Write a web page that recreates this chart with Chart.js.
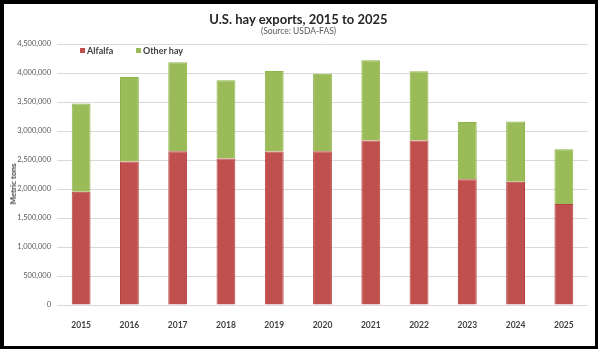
<!DOCTYPE html>
<html>
<head>
<meta charset="utf-8">
<script src="https://cdn.jsdelivr.net/npm/chart.js@4.4.1/dist/chart.umd.min.js"></script>
<style>
  html, body { margin: 0; padding: 0; background: #fff; }
  #wrap { position: relative; width: 600px; height: 351px; overflow: hidden; font-family: Lato, "Open Sans", sans-serif; }
  #frame { position: absolute; left: 0; top: 0; width: 598px; height: 349px; box-sizing: border-box;
           border-style: solid; border-color: #000; border-width: 4px 3px 3px 4px; }
  #chart-box { position: absolute; left: 0; top: 0; width: 600px; height: 351px; }
  .txt { position: absolute; white-space: nowrap; }
  #title { left: 0; width: 597px; top: 10px; text-align: center; font-size: 13px; font-weight: 700; color: #262626; line-height: 18px; }
  #subtitle { left: 0; width: 597px; top: 26px; text-align: center; font-size: 8.5px; color: #595959; line-height: 10px; }
  #ytitle { left: 13px; top: 184px; font-size: 8px; font-weight: 700; color: #404040;
            transform: translate(-50%, -50%) rotate(-90deg); }
  .legend-item { top: 46px; font-size: 9px; font-weight: 700; color: #404040; line-height: 10px; }
  .legend-dot { display: inline-block; width: 5px; height: 5px; margin-right: 2px; vertical-align: 1px; }
</style>
</head>
<body>
<div id="wrap">
  <div id="frame"></div>
  <div id="chart-box"><canvas id="hay-chart" width="600" height="351"></canvas></div>
  <div class="txt" id="title">U.S. hay exports, 2015 to 2025</div>
  <div class="txt" id="subtitle">(Source: USDA-FAS)</div>
  <div class="txt" id="ytitle">Metric tons</div>
  <div id="legend"></div>
</div>
<script>
// ─────────────────────────────────────────────
//  DATA (metric tons)
// ─────────────────────────────────────────────
const years = ['2015', '2016', '2017', '2018', '2019', '2020', '2021', '2022', '2023', '2024', '2025'];
const alfalfa = [1951000, 2473000, 2652000, 2525000, 2646000, 2652000, 2835000, 2835000, 2170000, 2124000, 1740000];
const otherHay = [1521000, 1459000, 1533000, 1350000, 1390000, 1337000, 1385000, 1195000, 987000, 1038000, 947000];
const yTicks = [0, 500000, 1000000, 1500000, 2000000, 2500000, 3000000, 3500000, 4000000, 4500000];

const seriesNames = ['Alfalfa', 'Other hay'];
const seriesColors = ['#C0504D', '#9BBB59'];
const seriesBorders = ['#B8403D', '#8DB548'];

// Legend (sits inside the plot area, top-left)
const legendPos = [80, 136];
document.getElementById('legend').innerHTML = seriesNames.map((name, i) => `
  <div class="txt legend-item" style="left:${legendPos[i]}px">
    <span class="legend-dot" style="background:${seriesColors[i]}"></span>${name}
  </div>`).join('');

const fmt = v => Number(v).toLocaleString('en-US');

new Chart(document.getElementById('hay-chart').getContext('2d'), {
  type: 'bar',
  data: {
    labels: years,
    datasets: [alfalfa, otherHay].map((data, i) => ({
      label: seriesNames[i],
      data,
      backgroundColor: seriesColors[i],
      borderColor: seriesBorders[i],
      borderWidth: 1,
      barPercentage: 0.39,
      categoryPercentage: 1
    }))
  },
  options: {
    responsive: false,
    animation: false,
    layout: { padding: { left: 0, top: 44, right: 12, bottom: 0 } },
    plugins: { legend: { display: false }, title: { display: false }, tooltip: { enabled: false } },
    scales: {
      x: {
        stacked: true,
        grid: { display: false },
        border: { display: false },
        ticks: { color: '#404040', padding: 7, font: { family: 'Lato', size: 8.5, weight: 'bold' } },
        afterFit: s => { s.height = 46; }
      },
      y: {
        stacked: true,
        min: 0,
        max: 4500000,
        afterBuildTicks: s => { s.ticks = yTicks.map(v => ({ value: v })); },
        grid: { color: '#D9D9D9', lineWidth: 1, drawTicks: false },
        border: { display: false },
        ticks: { color: '#595959', padding: 6, callback: v => fmt(v), font: { family: 'Lato', size: 7.5 } },
        afterFit: s => { s.width = 57; }
      }
    }
  }
});
</script>
</body>
</html>
